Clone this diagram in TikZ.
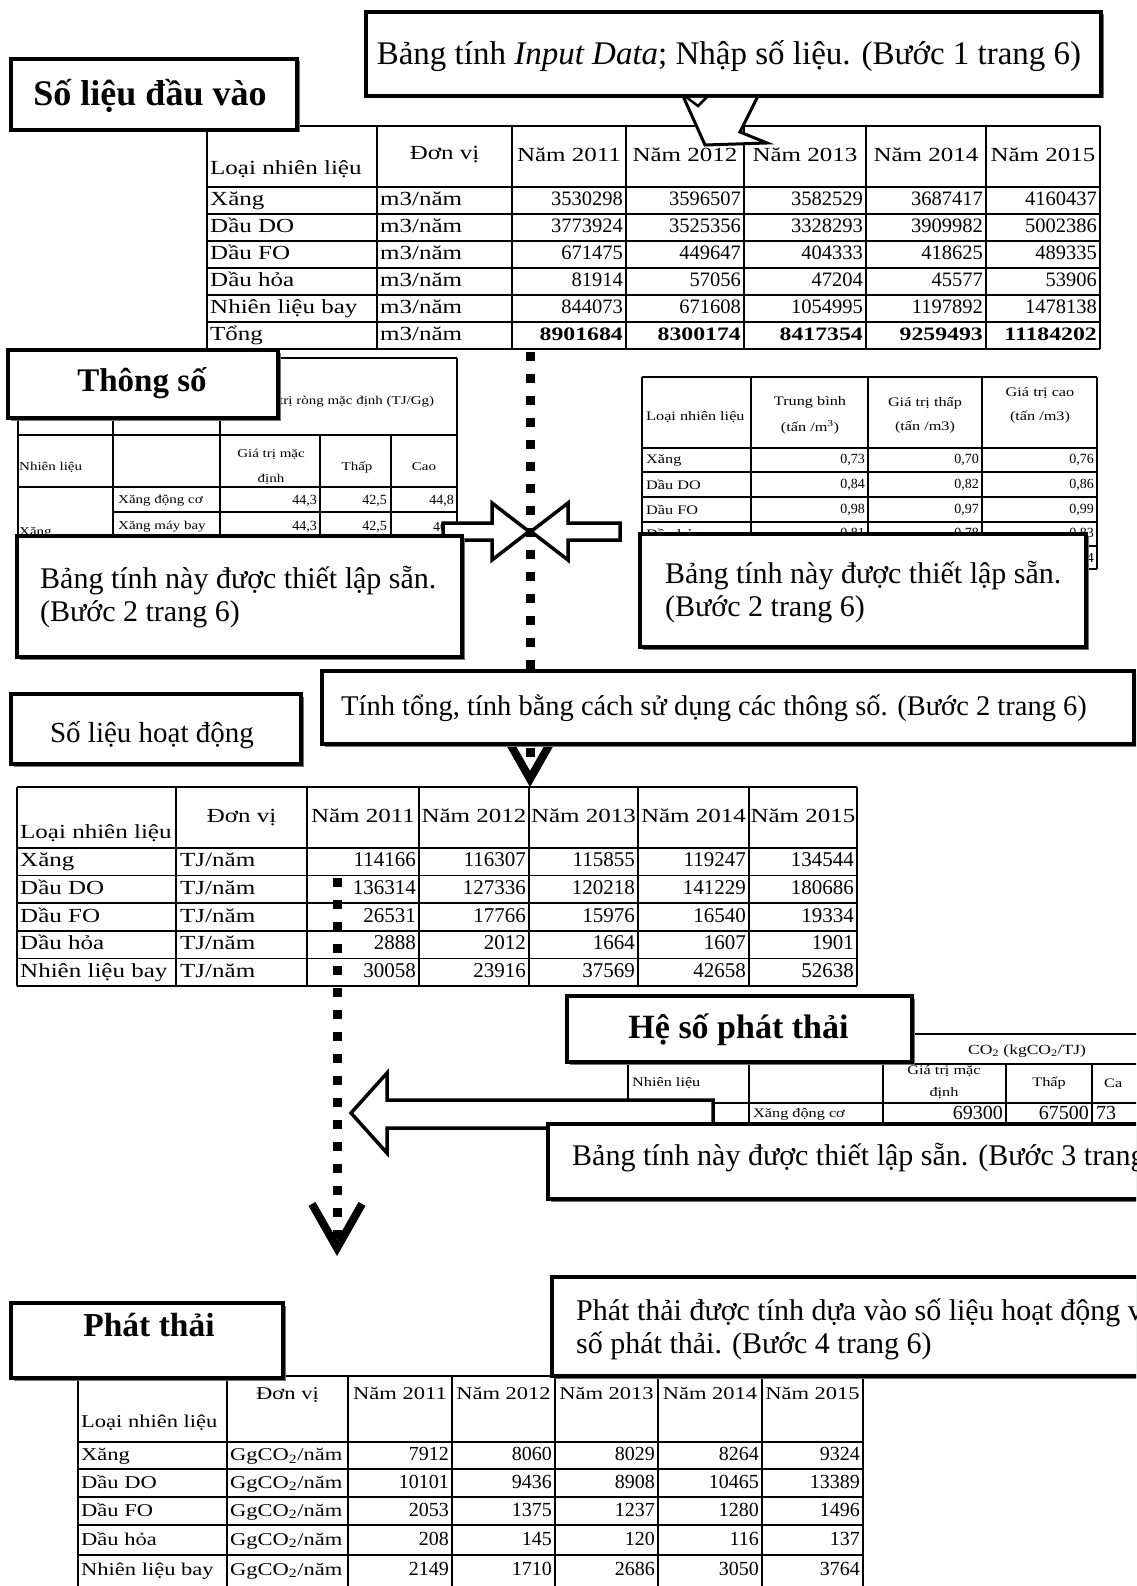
\documentclass[tikz,border=0pt]{standalone}
\usepackage{fontspec}
\setmainfont{Liberation Serif}
\newfontfamily\widefont[FakeStretch=1.25]{Liberation Serif}
\usetikzlibrary{arrows.meta,fit,shadows}
\newcommand\setcols[7]{\gdef\cxL{#1}\gdef\cxU{#2}\gdef\cxA{#3}\gdef\cxB{#4}\gdef\cxC{#5}\gdef\cxD{#6}\gdef\cxE{#7}}
\newcommand\drow[9]{%
  \node[lab,anchor=west] (#1l) at (\cxL,#2) {#3};
  \node[lab,anchor=west] (#1u) at (\cxU,#2) {#4};
  \node[num] (#1a) at (\cxA,#2) {#5};
  \node[num] (#1b) at (\cxB,#2) {#6};
  \node[num] (#1c) at (\cxC,#2) {#7};
  \node[num] (#1d) at (\cxD,#2) {#8};
  \node[num] (#1e) at (\cxE,#2) {#9};}
\newcommand\rrow[6]{%
  \node[rlab, anchor=west] (#1l) at (645,#2) {#3};
  \node[rnum] (#1a) at (866,#2) {#4};
  \node[rnum] (#1b) at (980,#2) {#5};
  \node[rnum] (#1c) at (1095,#2) {#6};}
\tikzset{
  box/.style={draw, line width=3.5pt, fill=white, inner sep=0pt, rectangle,
    drop shadow={shadow xshift=2.5pt, shadow yshift=-2.5pt, fill=black!55, opacity=1}},
  tline/.style={line width=1.2pt},
  tlab/.style={inner sep=1pt, text height=14pt, text depth=4pt},
  tnum/.style={inner sep=1pt, anchor=east, text height=14pt, text depth=4pt},
  slab/.style={inner sep=1pt, font=\widefont\fontsize{12}{13}\selectfont},
  snum/.style={inner sep=1pt, anchor=east, font=\fontsize{14}{15}\selectfont},
  rlab/.style={inner sep=1pt, font=\widefont\fontsize{13}{14}\selectfont},
  rnum/.style={inner sep=1pt, anchor=east, font=\fontsize{14}{15}\selectfont},
  dotline/.style={line width=9pt, dash pattern=on 9pt off 13pt,
    -{Straight Barb[length=44pt,width=50pt,line width=8pt]}},
  blockarrow/.style={draw, fill=white, line width=3.5pt, line join=miter},
  calltext/.style={inner sep=0pt, align=left, font=\fontsize{30}{33}\selectfont},
}
\begin{document}
\begin{tikzpicture}[x=1pt,y=-1pt]
\useasboundingbox (0,0) rectangle (1136,1586);
\clip (0,0) rectangle (1136,1586);
\fill[white] (0,0) rectangle (1136,1586);

% ---------------- Table 1: input data
\begin{scope}[lab/.style={tlab, font=\widefont\fontsize{20}{22}\selectfont},
              num/.style={tnum, font=\fontsize{20.5}{22}\selectfont},
              numb/.style={tnum, font=\widefont\bfseries\fontsize{19}{22}\selectfont}]
\foreach \x in {207,377,512,626,744,866,986,1100} \draw[tline] (\x,126) -- (\x,349);
\foreach \y in {126,187,214,241,268,295,322,349} \draw[tline] (207,\y) -- (1100,\y);
\node[lab, anchor=west] (t1h0) at (209,170) {Loại nhiên liệu};
\node[lab] (t1h1) at (444.5,155) {Đơn vị};
\foreach \cx/\yr in {569/2011, 685/2012, 805/2013, 926/2014, 1043/2015}
  \node[lab] (t1y\yr) at (\cx,157) {Năm \yr};
\setcols{209}{379}{624}{742}{864}{984}{1098}
\drow{ta1}{200.5}{Xăng}{m3/năm}{3530298}{3596507}{3582529}{3687417}{4160437}
\drow{ta2}{227.5}{Dầu DO}{m3/năm}{3773924}{3525356}{3328293}{3909982}{5002386}
\drow{ta3}{254.5}{Dầu FO}{m3/năm}{671475}{449647}{404333}{418625}{489335}
\drow{ta4}{281.5}{Dầu hỏa}{m3/năm}{81914}{57056}{47204}{45577}{53906}
\drow{ta5}{308.5}{Nhiên liệu bay}{m3/năm}{844073}{671608}{1054995}{1197892}{1478138}
\node[lab, anchor=west] (ta6l) at (209,335.5) {Tổng};
\node[lab, anchor=west] (ta6u) at (379,335.5) {m3/năm};
\node[numb] (ta6a) at (624,335.5) {8901684};
\node[numb] (ta6b) at (742,335.5) {8300174};
\node[numb] (ta6c) at (864,335.5) {8417354};
\node[numb] (ta6d) at (984,335.5) {9259493};
\node[numb] (ta6e) at (1098,335.5) {11184202};
\end{scope}

% ---------------- top callout
\node[box, fit={(366,12)(1101,96)}] (cA) {};
\fill[white] (684,98) -- (705,145) -- (767,143) -- (740,132) -- (757,98) -- cycle;
\draw[line width=3pt, line join=miter] (683,96) -- (705,145) -- (767,143) -- (740,132) -- (758,96);
\draw[line width=2.5pt] (686,97) -- (698,106) -- (707,97);
\node[inner sep=0pt, font=\fontsize{33}{35}\selectfont] (cAt) at (729,56)
  {Bảng tính \textit{Input Data}; Nhập số liệu. (Bước 1 trang 6)};

\node[box, fit={(11,59)(297,130)}] (bSL) {};
\node[inner sep=0pt, font=\bfseries\fontsize{36}{38}\selectfont] (bSLt) at (150,96) {Số liệu đầu vào};

% ---------------- left small table (net calorific value)
\draw[tline] (278,358) -- (457,358);
\draw[tline] (457,358) -- (457,540);
\foreach \x in {18,113,220} \draw[tline] (\x,418) -- (\x,540);
\foreach \x in {320,391} \draw[tline] (\x,435) -- (\x,540);
\draw[tline] (18,435) -- (457,435);
\draw[tline] (18,487) -- (457,487);
\draw[tline] (113,512) -- (457,512);
\node[slab, anchor=west] (s1) at (278,402) {trị ròng mặc định (TJ/Gg)};
\node[slab, anchor=west] (s2) at (18,467) {Nhiên liệu};
\node[slab, align=center, font=\widefont\fontsize{12}{25}\selectfont] (s3) at (271,467) {Giá trị mặc\\định};
\node[slab] (s4) at (357,467) {Thấp};
\node[slab] (s5) at (424,467) {Cao};
\node[slab, anchor=west] (s6) at (117,501) {Xăng động cơ};
\node[snum] (s7) at (318,501) {44,3};
\node[snum] (s8) at (388,501) {42,5};
\node[snum] (s9) at (455,501) {44,8};
\node[slab, anchor=west] (s10) at (117,527) {Xăng máy bay};
\node[snum] (s11) at (318,527) {44,3};
\node[snum] (s12) at (388,527) {42,5};
\node[snum, anchor=west] (s13) at (432,527) {46};
\node[slab, anchor=west] (s14) at (18,533) {Xăng};

% ---------------- right small table (density)
\foreach \x in {642,751,868,982,1097} \draw[tline] (\x,377) -- (\x,569);
\foreach \y in {377,448,472,497,522,546,569} \draw[tline] (642,\y) -- (1097,\y);
\node[rlab, anchor=west] (r0) at (645,417) {Loại nhiên liệu};
\node[rlab, align=center, font=\widefont\fontsize{13}{26}\selectfont] (r1) at (810,415) {Trung bình\\(tấn /m\textsuperscript{3})};
\node[rlab, align=center, font=\widefont\fontsize{13}{24}\selectfont] (r2) at (925,415) {Giá trị thấp\\(tấn /m3)};
\node[rlab, align=center, font=\widefont\fontsize{13}{24}\selectfont] (r3) at (1040,405) {Giá trị cao\\(tấn /m3)};
\rrow{rw1}{460}{Xăng}{0,73}{0,70}{0,76}
\rrow{rw2}{485}{Dầu DO}{0,84}{0,82}{0,86}
\rrow{rw3}{509.5}{Dầu FO}{0,98}{0,97}{0,99}
\rrow{rw4}{534}{Dầu hỏa}{0,81}{0,78}{0,83}
\node[rnum] (rw5c) at (1095,557.5) {4};

% ---------------- dotted connector 1
\coordinate (d1s) at (530,352);
\coordinate (d1e) at (530,787);
\draw[dotline] (d1s) -- (d1e);

% ---------------- converging block arrows
\draw[blockarrow] (443,523) -- (492,523) -- (492,503) -- (529,531.5) -- (492,560) -- (492,540) -- (443,540) -- cycle;
\draw[blockarrow] (620,523) -- (568,523) -- (568,503) -- (531,531.5) -- (568,560) -- (568,540) -- (620,540) -- cycle;

% ---------------- Thông số + callouts
\node[box, fit={(8,350)(278,418)}] (bTS) {};
\node[inner sep=0pt, font=\bfseries\fontsize{33}{35}\selectfont] (bTSt) at (142,383) {Thông số};

\node[box, fit={(17,536)(462,657)}] (cL) {};
\node[calltext, anchor=west] (cLt) at (40,597) {Bảng tính này được thiết lập sẵn.\\(Bước 2 trang 6)};

\node[box, fit={(640,534)(1086,647)}] (cR) {};
\node[calltext, anchor=west] (cRt) at (665,592) {Bảng tính này được thiết lập sẵn.\\(Bước 2 trang 6)};

% ---------------- Table 2: activity data
\begin{scope}[lab/.style={tlab, font=\widefont\fontsize{20}{22}\selectfont},
              num/.style={tnum, font=\fontsize{21}{22}\selectfont}]
\foreach \x in {17,176,307,419,529,638,749,857} \draw[tline] (\x,787) -- (\x,986);
\foreach \y in {787,848,875.4,903,931,958.6,986} \draw[tline] (17,\y) -- (857,\y);
\node[lab, anchor=west] (t2h0) at (19,833) {Loại nhiên liệu};
\node[lab] (t2h1) at (241.5,817) {Đơn vị};
\foreach \cx/\yr in {363/2011, 474/2012, 583.5/2013, 693.5/2014, 803/2015}
  \node[lab] (t2y\yr) at (\cx,817) {Năm \yr};
\setcols{19}{179}{417}{527}{636}{747}{855}
\drow{tb1}{861.7}{Xăng}{TJ/năm}{114166}{116307}{115855}{119247}{134544}
\drow{tb2}{889.2}{Dầu DO}{TJ/năm}{136314}{127336}{120218}{141229}{180686}
\drow{tb3}{917}{Dầu FO}{TJ/năm}{26531}{17766}{15976}{16540}{19334}
\drow{tb4}{944.8}{Dầu hỏa}{TJ/năm}{2888}{2012}{1664}{1607}{1901}
\drow{tb5}{972.3}{Nhiên liệu bay}{TJ/năm}{30058}{23916}{37569}{42658}{52638}
\end{scope}

% ---------------- middle callout and label
\node[box, fit={(322,671)(1134,744)}] (cM) {};
\node[inner sep=0pt, font=\fontsize{28.5}{30}\selectfont] (cMt) at (714,708)
  {Tính tổng, tính bằng cách sử dụng các thông số. (Bước 2 trang 6)};
\node[box, fit={(11,694)(301,764)}] (bHD) {};
\node[inner sep=0pt, font=\fontsize{29}{31}\selectfont] (bHDt) at (152,735) {Số liệu hoạt động};

% ---------------- dotted connector 2
\coordinate (d2s) at (337,878);
\coordinate (d2e) at (337,1256);
\draw[dotline] (d2s) -- (d2e);

% ---------------- emission factor table
\begin{scope}[elab/.style={inner sep=1pt, font=\widefont\fontsize{13}{14}\selectfont},
              enum/.style={inner sep=1pt, anchor=east, font=\fontsize{20}{22}\selectfont}]
\draw[tline] (883,1034) -- (1140,1034);
\draw[tline] (628,1064) -- (1140,1064);
\draw[tline] (628,1103) -- (1140,1103);
\foreach \x in {628,749,1006,1092} \draw[tline] (\x,1064) -- (\x,1126);
\draw[tline] (883,1034) -- (883,1126);
\node[elab, font=\widefont\fontsize{14}{15}\selectfont] (e0) at (1027,1051) {CO\textsubscript{2} (kgCO\textsubscript{2}/TJ)};
\node[elab, anchor=west] (e1) at (631,1083) {Nhiên liệu};
\node[elab, align=center, font=\widefont\fontsize{13}{22}\selectfont] (e2) at (944,1082) {Giá trị mặc\\định};
\node[elab] (e3) at (1049,1083) {Thấp};
\node[elab, anchor=west] (e4) at (1103,1083) {Ca};
\node[elab, anchor=west] (e5) at (752,1114) {Xăng động cơ};
\node[enum] (e6) at (1004,1113) {69300};
\node[enum] (e7) at (1090,1113) {67500};
\node[enum, anchor=west] (e8) at (1095,1113) {73};
\end{scope}

\draw[blockarrow] (351,1113) -- (387,1073) -- (387,1100) -- (713,1100) -- (713,1128) -- (387,1128) -- (387,1153) -- cycle;

\node[box, fit={(567,996)(912,1062)}] (bHS) {};
\node[inner sep=0pt, font=\bfseries\fontsize{34}{36}\selectfont] (bHSt) at (738.5,1030) {Hệ số phát thải};

\node[box, fit={(548,1124)(1160,1199)}] (c3) {};
\node[calltext, anchor=west] (c3t) at (572,1158) {Bảng tính này được thiết lập sẵn. (Bước 3 trang};

% ---------------- Table 3: emissions
\begin{scope}[lab/.style={tlab, font=\widefont\fontsize{18}{20}\selectfont},
              num/.style={tnum, font=\fontsize{20}{22}\selectfont}]
\foreach \x in {78,227,348,452,555,658,762,863} \draw[tline] (\x,1376) -- (\x,1590);
\foreach \y in {1376,1442,1469,1497,1525,1555} \draw[tline] (78,\y) -- (863,\y);
\node[lab, anchor=west] (t3h0) at (80,1422) {Loại nhiên liệu};
\node[lab] (t3h1) at (287.5,1394) {Đơn vị};
\foreach \cx/\yr in {400/2011, 503.5/2012, 606.5/2013, 710/2014, 812.5/2015}
  \node[lab] (t3y\yr) at (\cx,1394) {Năm \yr};
\setcols{80}{229}{450}{553}{656}{760}{861}
\drow{tc1}{1455.5}{Xăng}{GgCO\textsubscript{2}/năm}{7912}{8060}{8029}{8264}{9324}
\drow{tc2}{1483}{Dầu DO}{GgCO\textsubscript{2}/năm}{10101}{9436}{8908}{10465}{13389}
\drow{tc3}{1511}{Dầu FO}{GgCO\textsubscript{2}/năm}{2053}{1375}{1237}{1280}{1496}
\drow{tc4}{1540}{Dầu hỏa}{GgCO\textsubscript{2}/năm}{208}{145}{120}{116}{137}
\drow{tc5}{1570}{Nhiên liệu bay}{GgCO\textsubscript{2}/năm}{2149}{1710}{2686}{3050}{3764}
\end{scope}

\node[box, fit={(11,1303)(283,1378)}] (bPT) {};
\node[inner sep=0pt, font=\bfseries\fontsize{33.5}{35}\selectfont] (bPTt) at (149,1325) {Phát thải};

\node[box, fit={(552,1277)(1160,1376)}] (c4) {};
\node[calltext, anchor=west] (c4t) at (576,1329) {Phát thải được tính dựa vào số liệu hoạt động v\\số phát thải. (Bước 4 trang 6)};
\end{tikzpicture}
\end{document}
